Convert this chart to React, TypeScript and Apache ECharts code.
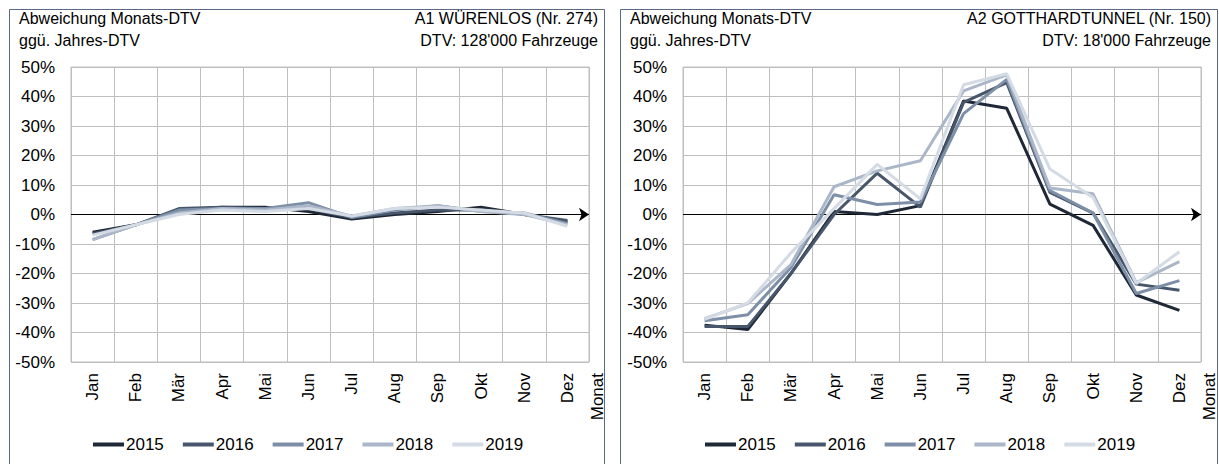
import React, { useEffect, useRef } from "react";
import * as echarts from "echarts";

const months = ["Jan", "Feb", "Mär", "Apr", "Mai", "Jun", "Jul", "Aug", "Sep", "Okt", "Nov", "Dez"];
const years = ["2015", "2016", "2017", "2018", "2019"];

const wuer2015 = [-6, -3.5, 1.5, 2.5, 2.5, 1, -1.5, 0, 1, 2.5, 0, -2.5];
const wuer2016 = [-6.5, -3.5, 2, 2.5, 2, 2, -1, 0.5, 1.5, 1.5, 0, -2];
const wuer2017 = [-8.5, -3.5, 1.5, 2, 2, 4, -1, 1.5, 3, 1, 0.5, -3];
const wuer2018 = [-8.5, -3.5, 0.5, 2, 1.5, 3, -0.5, 2, 3, 1, 0, -3.5];
const wuer2019 = [-7, -3.5, 0, 1.5, 1, 2, -0.5, 2, 2.5, 1.5, 0.5, -4];

const gott2015 = [-37.5, -39, -20, 1, 0, 3, 38.5, 36, 3.5, -3.7, -27.3, -32.5];
const gott2016 = [-38, -38, -20, 0, 14, 2.5, 38, 44.7, 7.5, 0.5, -23.6, -25.7];
const gott2017 = [-36, -34, -18, 6.7, 3.4, 4.2, 34.2, 45.8, 8.1, 0.5, -26.8, -22.4];
const gott2018 = [-35.3, -30.2, -17, 9.4, 14.8, 18.2, 41.9, 47.3, 9, 7, -23.1, -16];
const gott2019 = [-35.5, -30, -13, 2, 17, 5.3, 44, 47.7, 15.4, 5.8, -23.4, -12.6];

const yTicks = { min: -50, max: 50, step: 10 };

const leftTitle1 = "Abweichung Monats-DTV";
const leftTitle2 = "ggü. Jahres-DTV";
const leftStation = "A1 WÜRENLOS (Nr. 274)";
const leftDtv = "DTV: 128'000 Fahrzeuge";
const rightStation = "A2 GOTTHARDTUNNEL (Nr. 150)";
const rightDtv = "DTV: 18'000 Fahrzeuge";
const axisName = "Monat";

const wuerData = [wuer2015, wuer2016, wuer2017, wuer2018, wuer2019];
const gottData = [gott2015, gott2016, gott2017, gott2018, gott2019];

const colors = ["#1f2836", "#47566b", "#7d8fa7", "#abb7c8", "#d4dbe5"];
const FONT = "Liberation Sans";

export default function App() {
  const ref = useRef<HTMLDivElement>(null);
  useEffect(() => {
    if (!ref.current) return;
    const chart = echarts.init(ref.current, undefined, { renderer: "svg" });

    const grids = [
      { left: 71, top: 67, width: 518, height: 295 },
      { left: 683, top: 67, width: 518, height: 295 },
    ];

    const xAxes = grids.map((_, i) => ({
      type: "category",
      gridIndex: i,
      data: months,
      boundaryGap: true,
      axisLine: { show: false },
      axisTick: { show: false },
      splitLine: { show: true, interval: 0, lineStyle: { color: "#bfbfbf", width: 1 } },
      axisLabel: {
        interval: 0,
        rotate: 90,
        margin: 11,
        fontSize: 17,
        color: "#000",
        fontFamily: FONT,
      },
    }));

    const yAxes = grids.map((_, i) => ({
      type: "value",
      gridIndex: i,
      min: yTicks.min,
      max: yTicks.max,
      interval: yTicks.step,
      axisLine: { show: false },
      axisTick: { show: false },
      splitLine: { show: true, lineStyle: { color: "#bfbfbf", width: 1 } },
      axisLabel: {
        formatter: "{value}%",
        margin: 16,
        fontSize: 17,
        color: "#000",
        fontFamily: FONT,
      },
    }));

    const series: any[] = [];
    [wuerData, gottData].forEach((set, gi) => {
      set.forEach((vals, si) => {
        series.push({
          type: "line",
          name: years[si],
          xAxisIndex: gi,
          yAxisIndex: gi,
          data: vals,
          symbol: "none",
          clip: false,
          lineStyle: { color: colors[si], width: 3 },
          itemStyle: { color: colors[si] },
          z: 3,
          markLine:
            si === 0
              ? {
                  silent: true,
                  symbol: ["none", "arrow"],
                  symbolSize: 10,
                  label: { show: false },
                  lineStyle: { color: "#000", width: 1, type: "solid" },
                  data: [{ yAxis: 0 }],
                  z: 2,
                }
              : undefined,
        });
      });
    });

    const legendBase = {
      data: years,
      top: 431,
      icon: "rect",
      itemWidth: 31,
      itemHeight: 4,
      itemGap: 19,
      textStyle: { fontSize: 17, color: "#000", fontFamily: FONT, padding: [0, 0, 0, -3] },
    };

    const textStyle = (text: string, align: string) => ({
      text,
      fontSize: 16,
      fontFamily: FONT,
      fill: "#000",
      align,
      verticalAlign: "middle",
    });

    const panels = [
      { x: 9, w: 596, gridRight: 589, station: leftStation, dtv: leftDtv },
      { x: 620, w: 598, gridRight: 1201, station: rightStation, dtv: rightDtv },
    ];

    const graphic: any[] = [];
    panels.forEach((p) => {
      graphic.push({
        type: "rect",
        shape: { x: p.x + 0.5, y: 9.5, width: p.w - 1, height: 470 },
        style: { fill: "none", stroke: "#5a6a85", lineWidth: 1 },
        silent: true,
      });
      graphic.push({ type: "text", x: p.x + 10, y: 18, style: textStyle(leftTitle1, "left") });
      graphic.push({ type: "text", x: p.x + 10, y: 40, style: textStyle(leftTitle2, "left") });
      graphic.push({ type: "text", x: p.x + p.w - 7, y: 18, style: textStyle(p.station, "right") });
      graphic.push({ type: "text", x: p.x + p.w - 7, y: 40, style: textStyle(p.dtv, "right") });
      graphic.push({
        type: "text",
        x: p.gridRight + 8,
        y: 373,
        rotation: Math.PI / 2,
        style: { ...textStyle(axisName, "right"), fontSize: 17 },
      });
    });

    chart.setOption({
      animation: false,
      backgroundColor: "#fff",
      grid: grids.map((g) => ({ ...g, show: true, borderColor: "#bfbfbf", borderWidth: 1, backgroundColor: "transparent" })),
      xAxis: xAxes,
      yAxis: yAxes,
      legend: [
        { ...legendBase, left: 88 },
        { ...legendBase, left: 700 },
      ],
      series,
      graphic,
    });
    return () => chart.dispose();
  }, []);
  return (
    <div
      ref={ref}
      style={{ position: "absolute", left: 0, top: 0, width: 1219, height: 464 }}
    />
  );
}
